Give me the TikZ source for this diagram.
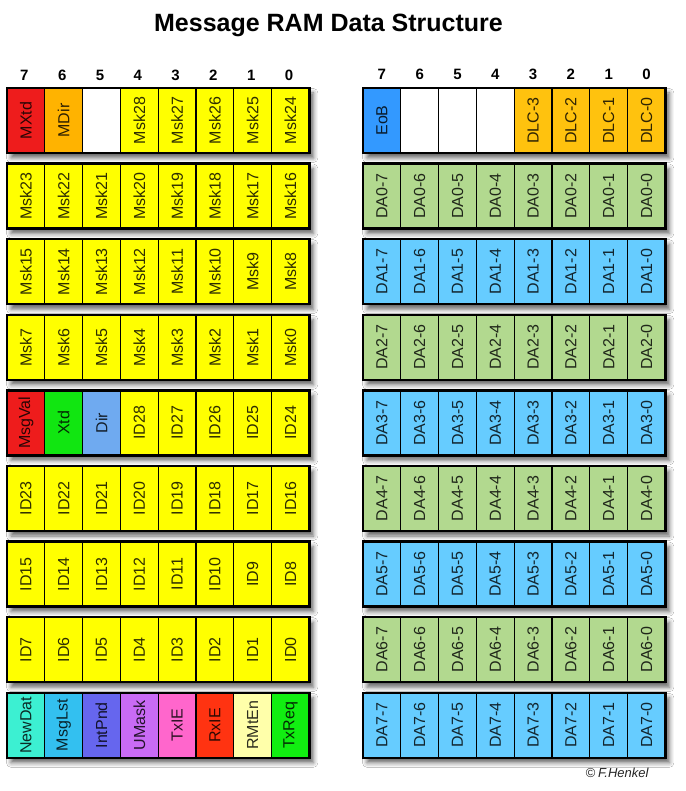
\documentclass[tikz,border=0pt]{standalone}
\usepackage{fontspec}
\setmainfont{Liberation Sans}
\usetikzlibrary{shadows.blur}
\definecolor{cRed}{HTML}{EE1C1C}
\definecolor{cOrg}{HTML}{FFB300}
\definecolor{cYel}{HTML}{FFFF00}
\definecolor{cWht}{HTML}{FFFFFF}
\definecolor{cEoB}{HTML}{3399FF}
\definecolor{cDlc}{HTML}{FFC20E}
\definecolor{cGrn}{HTML}{B2D98F}
\definecolor{cBlu}{HTML}{66CCFF}
\definecolor{cXtd}{HTML}{11E611}
\definecolor{cDir}{HTML}{6FAAF0}
\definecolor{cNew}{HTML}{3CF0D2}
\definecolor{cLst}{HTML}{33C0F0}
\definecolor{cInt}{HTML}{6666EE}
\definecolor{cUMk}{HTML}{C96BF5}
\definecolor{cTxI}{HTML}{FF66CC}
\definecolor{cRxI}{HTML}{FF3311}
\definecolor{cRMt}{HTML}{FFFFAA}
\definecolor{cTxR}{HTML}{11EE11}
\tikzset{
  cellbox/.style={draw=black, line width=1.3pt, inner sep=0pt, outer sep=0pt,
    minimum width=37.8pt, minimum height=65pt, anchor=north west,
    font=\fontsize{16}{16}\selectfont},
  rowframe/.style={draw=black, line width=2.4pt},
  rowshadow/.style={fill=white, inner sep=0pt, outer sep=0pt, anchor=north west,
    minimum width=302.4pt, minimum height=65pt,
    blur shadow={shadow xshift=4pt, shadow yshift=-5pt, shadow blur radius=4.5pt, shadow opacity=60}},
  bitlabel/.style={font=\bfseries\fontsize{15}{15}\selectfont},
}
\newcommand\mixrow[4]{%
  \node[rowshadow] (#1-bg) at (#2,#3) {};
  \foreach \c/\l [count=\k] in {#4} {
    \node[cellbox, fill=\c, text=\c!18!black] (#1-\k) at ({#2+(\k-1)*37.8},#3) {\rotatebox{90}{\l}};
  }
  \draw[rowframe] (#1-1.north west) rectangle (#1-8.south east);
}
\newcommand\unirow[6]{%
  \node[rowshadow] (#1-bg) at (#2,#3) {};
  \foreach \k in {1,...,8} {
    \pgfmathtruncatemacro\n{#6-\k+1}
    \node[cellbox, fill=#4, text=#4!18!black] (#1-\k) at ({#2+(\k-1)*37.8},#3) {\rotatebox{90}{#5\n}};
  }
  \draw[rowframe] (#1-1.north west) rectangle (#1-8.south east);
}
\begin{document}
\begin{tikzpicture}[x=1pt,y=-1pt]
\useasboundingbox[fill=white] (0,0) rectangle (685,791);
\node[font=\bfseries\fontsize{25}{25}\selectfont] (title) at (328.5,25.5) {Message RAM Data Structure};
\foreach \k in {1,...,8} {
  \pgfmathtruncatemacro\b{8-\k}
  \node[bitlabel] (bl\k) at ({7+(\k-0.5)*37.8-1.5},75) {\b};
  \node[bitlabel] (br\k) at ({363+(\k-0.5)*37.8},74) {\b};
}
% left column
\mixrow{L1}{7}{88}{cRed/MXtd,cOrg/MDir,cWht/{},cYel/Msk28,cYel/Msk27,cYel/Msk26,cYel/Msk25,cYel/Msk24}
\unirow{L2}{7}{163.6}{cYel}{Msk}{23}
\unirow{L3}{7}{239.2}{cYel}{Msk}{15}
\unirow{L4}{7}{314.8}{cYel}{Msk}{7}
\mixrow{L5}{7}{390.4}{cRed/MsgVal,cXtd/Xtd,cDir/Dir,cYel/ID28,cYel/ID27,cYel/ID26,cYel/ID25,cYel/ID24}
\unirow{L6}{7}{466}{cYel}{ID}{23}
\unirow{L7}{7}{541.6}{cYel}{ID}{15}
\unirow{L8}{7}{617.2}{cYel}{ID}{7}
\mixrow{L9}{7}{692.8}{cNew/NewDat,cLst/MsgLst,cInt/IntPnd,cUMk/UMask,cTxI/TxIE,cRxI/RxIE,cRMt/RMtEn,cTxR/TxReq}
% right column
\mixrow{R1}{363}{88}{cEoB/EoB,cWht/{},cWht/{},cWht/{},cDlc/DLC-3,cDlc/DLC-2,cDlc/DLC-1,cDlc/DLC-0}
\unirow{R2}{363}{163.6}{cGrn}{DA0-}{7}
\unirow{R3}{363}{239.2}{cBlu}{DA1-}{7}
\unirow{R4}{363}{314.8}{cGrn}{DA2-}{7}
\unirow{R5}{363}{390.4}{cBlu}{DA3-}{7}
\unirow{R6}{363}{466}{cGrn}{DA4-}{7}
\unirow{R7}{363}{541.6}{cBlu}{DA5-}{7}
\unirow{R8}{363}{617.2}{cGrn}{DA6-}{7}
\unirow{R9}{363}{692.8}{cBlu}{DA7-}{7}
\node[font=\itshape\fontsize{13}{13}\selectfont, text=black!85] (copy) at (617,773) {©\hspace{3pt}F.Henkel};
\end{tikzpicture}
\end{document}
